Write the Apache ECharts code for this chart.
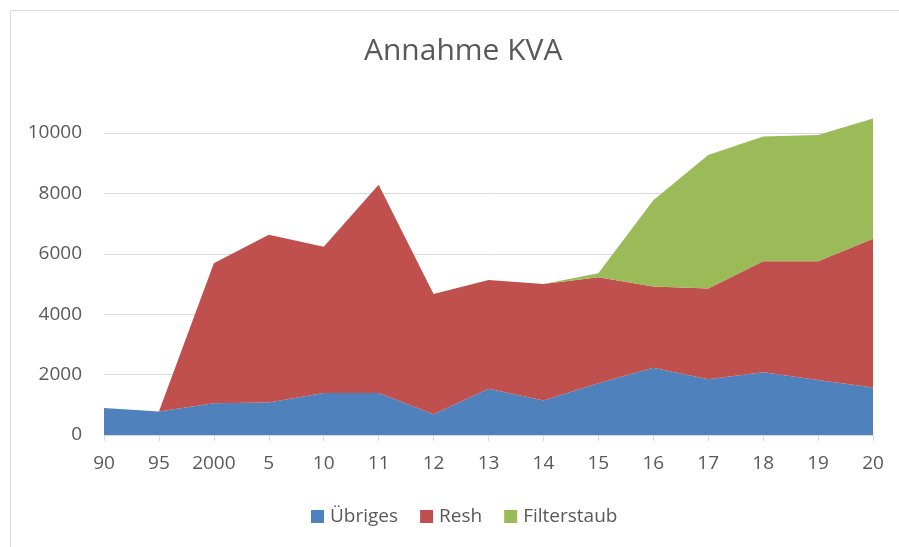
<!DOCTYPE html>
<html>
<head>
<meta charset="utf-8">
<script src="https://cdn.jsdelivr.net/npm/echarts@6/dist/echarts.min.js"></script>
<style>
  html, body { margin: 0; padding: 0; background: #fff; }
  #chart { width: 899px; height: 547px; }
</style>
</head>
<body>
<div id="chart"></div>
<script>
var years = ['90', '95', '2000', '5', '10', '11', '12', '13', '14', '15', '16', '17', '18', '19', '20'];
var uebriges = [890, 780, 1050, 1080, 1390, 1390, 690, 1530, 1140, 1710, 2230, 1850, 2080, 1820, 1570];
var resh = [0, 0, 4640, 5550, 4840, 6900, 3980, 3600, 3860, 3510, 2690, 3000, 3670, 3930, 4930];
var filterstaub = [0, 0, 0, 0, 0, 0, 0, 0, 0, 140, 2850, 4420, 4130, 4180, 3980];
var yTicks = [0, 2000, 4000, 6000, 8000, 10000];

var textColor = '#595959';
var font = '"Open Sans", "Noto Sans", sans-serif';

function areaSeries(name, data, color) {
	return {
		name: name,
		type: 'line',
		stack: 'total',
		data: data,
		symbol: 'none',
		clip: false,
		lineStyle: { width: 0 },
		itemStyle: { color: color },
		areaStyle: { color: color, opacity: 1 }
	};
}

var myChart = echarts.init(document.getElementById('chart'), null, { renderer: 'canvas' });
var option = {
	backgroundColor: '#fff',
	animation: false,
	textStyle: { fontFamily: font },
	title: {
		text: 'Annahme KVA',
		left: 359,
		top: 31,
		textStyle: { fontFamily: font, fontSize: 30, fontWeight: 'normal', color: textColor }
	},
	legend: {
		bottom: 16,
		left: 306,
		itemWidth: 13,
		itemHeight: 13,
		itemGap: 22,
		icon: 'rect',
		textStyle: { fontFamily: font, fontSize: 19, color: textColor, padding: [0, 0, 0, 1] },
		data: ['Übriges', 'Resh', 'Filterstaub']
	},
	graphic: [{
		type: 'rect',
		shape: { x: 10.5, y: 10.5, width: 900, height: 560 },
		style: { fill: 'none', stroke: '#d9d9d9', lineWidth: 1 },
		silent: true
	}],
	grid: { left: 104, right: 26, top: 133, bottom: 112, containLabel: false },
	xAxis: {
		type: 'category',
		boundaryGap: false,
		data: years,
		axisLine: { lineStyle: { color: '#d9d9d9', width: 1 } },
		axisTick: { show: true, length: 6, interval: 0, lineStyle: { color: '#d9d9d9' } },
		axisLabel: { color: textColor, fontSize: 19, fontFamily: font, margin: 19, interval: 0 },
		splitLine: { show: false }
	},
	yAxis: {
		type: 'value',
		min: yTicks[0],
		max: yTicks[yTicks.length - 1],
		interval: 2000,
		axisLine: { show: false },
		axisTick: { show: false },
		axisLabel: {
			color: textColor, fontSize: 19, fontFamily: font, margin: 22,
			formatter: function (v) { return String(v); }
		},
		splitLine: { lineStyle: { color: '#d9d9d9', width: 1 } }
	},
	series: [
		areaSeries('Übriges', uebriges, '#4f81bd'),
		areaSeries('Resh', resh, '#c0504d'),
		areaSeries('Filterstaub', filterstaub, '#9bbb59')
	]
};
myChart.setOption(option);
</script>
</body>
</html>
